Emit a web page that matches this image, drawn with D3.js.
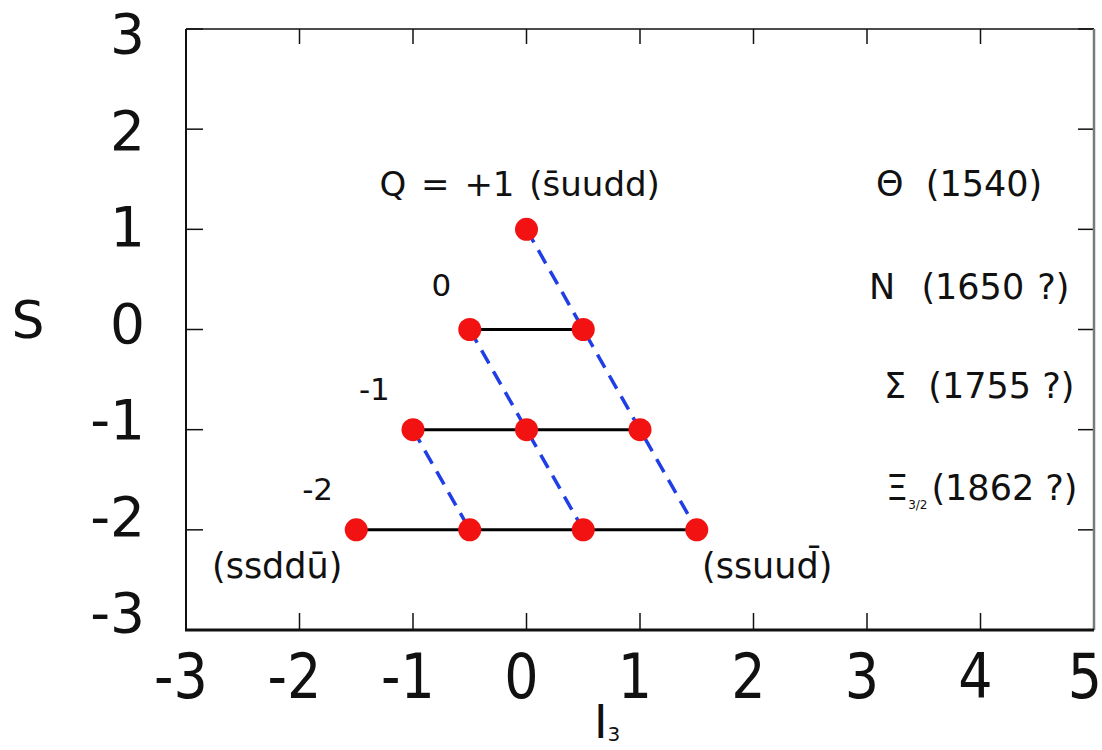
<!DOCTYPE html>
<html>
<head>
<meta charset="utf-8">
<script src="https://cdn.jsdelivr.net/npm/d3@7"></script>
<style>
  body { margin: 0; background: #fff; }
  svg { display: block; }
  text { font-family: "DejaVu Sans", sans-serif; fill: #111; white-space: pre; }
</style>
</head>
<body>
<svg id="chart" width="1102" height="750"></svg>
<script>
// Axis ticks
const xTicks = [-3, -2, -1, 0, 1, 2, 3, 4, 5];
const yTicks = [-3, -2, -1, 0, 1, 2, 3];

// Pentaquark antidecuplet states (I3, S)
const i3Values = [0, -0.5, 0.5, -1, 0, 1, -1.5, -0.5, 0.5, 1.5];
const sValues  = [1, 0, 0, -1, -1, -1, -2, -2, -2, -2];

// Rows of equal strangeness (solid black)
const rowS    = [0, -1, -2];
const rowFrom = [-0.5, -1, -1.5];
const rowTo   = [0.5, 1, 1.5];

// Lines of equal charge (blue dashed): start and end states
const chargeStartI3 = [0, -0.5, -1];
const chargeStartS  = [1, 0, -1];
const chargeEndI3   = [1.5, 0.5, -0.5];
const chargeEndS    = [-2, -2, -2];

// Charge labels and their anchor in (I3, S)
const chargeText = ["0", "-1", "-2"];
const chargeAtI3 = [-0.75, -1.34, -1.84];
const chargeAtS  = [0.33, -0.70, -1.70];

// Multiplet names on the right, one per strangeness row
const stateSymbols = ["Θ", "N", "Σ", "Ξ"];
const stateMasses  = ["(1540)", "(1650 ?)", "(1755 ?)", "(1862 ?)"];
const stateRowS    = [1.33, 0.30, -0.68, -1.70];

const svg = d3.select("#chart");

const x = d3.scaleLinear().domain([-3, 5]).range([186, 1094]);
const y = d3.scaleLinear().domain([-3, 3]).range([630, 29]);
// tick labels sit on a slightly tighter vertical spacing than the ticks
const yLabel = d3.scaleLinear().domain([-3, 3]).range([612, 33]);

const [x0, x1] = x.range();
const [yBot, yTop] = y.range();

// ---- ticks (inward, mirrored on all four sides)
const tickG = svg.append("g").attr("stroke", "#111").attr("stroke-width", 1.5);
tickG.selectAll(".tb").data(xTicks).join("line")
  .attr("x1", d => x(d)).attr("x2", d => x(d))
  .attr("y1", yBot).attr("y2", yBot - 17);
tickG.selectAll(".tt").data(xTicks).join("line")
  .attr("x1", d => x(d)).attr("x2", d => x(d))
  .attr("y1", yTop).attr("y2", yTop + 15);
tickG.selectAll(".tl").data(yTicks).join("line")
  .attr("x1", x0).attr("x2", x0 + 17)
  .attr("y1", d => y(d)).attr("y2", d => y(d));
tickG.selectAll(".tr").data(yTicks).join("line")
  .attr("x1", x1).attr("x2", x1 - 16)
  .attr("y1", d => y(d)).attr("y2", d => y(d));

// ---- frame
svg.append("line").attr("x1", x0).attr("x2", x1).attr("y1", yTop).attr("y2", yTop)
  .attr("stroke", "#111").attr("stroke-width", 1.5);
svg.append("line").attr("x1", x1).attr("x2", x1).attr("y1", yTop).attr("y2", yBot)
  .attr("stroke", "#7a7a7a").attr("stroke-width", 2.5);
svg.append("line").attr("x1", x0).attr("x2", x0).attr("y1", yTop).attr("y2", yBot)
  .attr("stroke", "#111").attr("stroke-width", 2);
svg.append("line").attr("x1", x0 - 1).attr("x2", x1).attr("y1", yBot).attr("y2", yBot)
  .attr("stroke", "#111").attr("stroke-width", 3);

// ---- tick labels
svg.append("g").selectAll("text").data(xTicks).join("text")
  .attr("transform", d => `translate(${Math.min(x(d) - 5, 1085)},698) scale(1,1.14)`)
  .attr("text-anchor", "middle")
  .attr("font-size", 54)
  .text(d => String(d));

svg.append("g").selectAll("text").data(yTicks).join("text")
  .attr("x", 145)
  .attr("y", d => yLabel(d) + 0.3645 * 55)
  .attr("text-anchor", "end")
  .attr("font-size", 55)
  .text(d => String(d));

// ---- axis titles
svg.append("text").attr("x", 28).attr("y", 338).attr("text-anchor", "middle")
  .attr("font-size", 52).text("S");
const xt = svg.append("text").attr("x", 594).attr("y", 738).attr("font-size", 46);
xt.append("tspan").text("I");
xt.append("tspan").attr("font-size", 20).attr("dy", 3).text("3");

// ---- equal-strangeness rows
svg.append("g").selectAll("line").data(rowS).join("line")
  .attr("x1", (d, i) => x(rowFrom[i])).attr("x2", (d, i) => x(rowTo[i]))
  .attr("y1", d => y(d)).attr("y2", d => y(d))
  .attr("stroke", "#000").attr("stroke-width", 3);

// ---- equal-charge lines
svg.append("g").selectAll("line").data(chargeStartI3).join("line")
  .attr("x1", d => x(d)).attr("y1", (d, i) => y(chargeStartS[i]))
  .attr("x2", (d, i) => x(chargeEndI3[i])).attr("y2", (d, i) => y(chargeEndS[i]))
  .attr("stroke", "#1f3ee6").attr("stroke-width", 3.5)
  .attr("stroke-dasharray", "15 9");

// ---- states
svg.append("g").selectAll("circle").data(i3Values).join("circle")
  .attr("cx", d => x(d)).attr("cy", (d, i) => y(sValues[i]))
  .attr("r", 11.5)
  .attr("fill", "#f21212");

// ---- charge annotations
svg.append("text").attr("x", x(-1.295)).attr("y", y(1.335))
  .attr("font-size", 34).attr("word-spacing", 4)
  .text("Q = +1 (s\u0304uudd)");

svg.append("g").selectAll("text").data(chargeText).join("text")
  .attr("x", (d, i) => x(chargeAtI3[i])).attr("y", (d, i) => y(chargeAtS[i]))
  .attr("text-anchor", "middle")
  .attr("font-size", 31)
  .text(d => d);

svg.append("text").attr("x", 212).attr("y", 578).attr("font-size", 35)
  .text("(ssddu\u0304)");
svg.append("text").attr("x", 702).attr("y", 578).attr("font-size", 35)
  .text("(ssuud\u0304)");

// ---- multiplet names
const names = svg.append("g").selectAll("text").data(stateSymbols).join("text")
  .attr("y", (d, i) => y(stateRowS[i]))
  .attr("font-size", 35);
names.each(function (d, i) {
  const t = d3.select(this);
  if (d === "Ξ") {
    t.attr("x", 886);
    t.append("tspan").text(d);
    t.append("tspan").attr("font-size", 12).attr("dy", 9).text("3/2");
    t.append("tspan").attr("dy", -9).attr("dx", 4).text(stateMasses[i]);
  } else {
    t.attr("x", d === "N" ? 869 : (d === "Θ" ? 876 : 884));
    t.attr("word-spacing", d === "N" ? 2 : 0);
    t.text(d + "  " + stateMasses[i]);
  }
});
</script>
</body>
</html>
